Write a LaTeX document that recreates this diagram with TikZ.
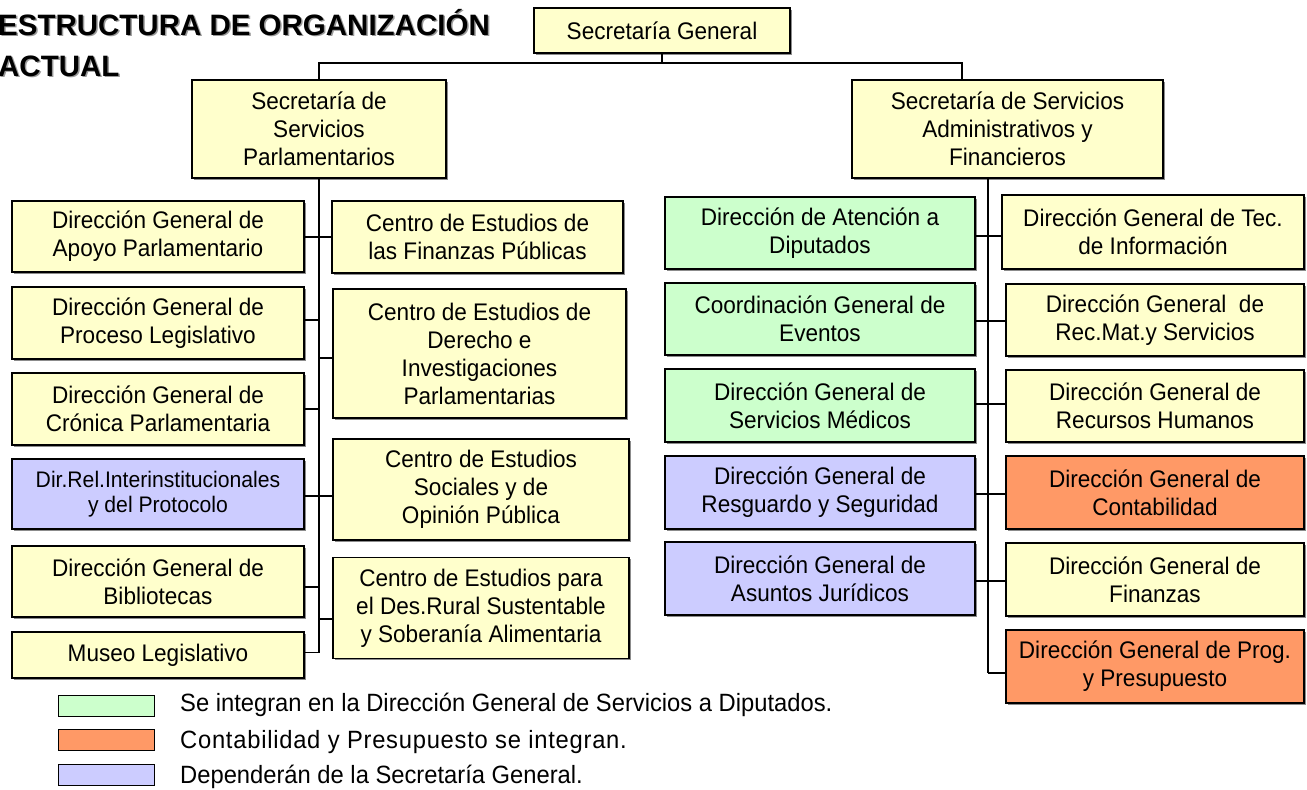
\documentclass[tikz,border=0pt]{standalone}
\usepackage{fontspec}
\setmainfont{Liberation Sans}
\newfontfamily\boxfont{Liberation Sans}[FakeStretch=0.94]
\newfontfamily\legfont{Liberation Sans}[FakeStretch=0.95]
\newfontfamily\legwidefont{Liberation Sans}[FakeStretch=0.95,LetterSpace=3.0]
\usetikzlibrary{shadows}
\definecolor{cyel}{HTML}{FFFFCC}
\definecolor{cgrn}{HTML}{CCFFCC}
\definecolor{corg}{HTML}{FF9966}
\definecolor{cblu}{HTML}{CCCCFF}
\tikzset{
  box/.style={draw=black, line width=1.3pt, align=center, inner sep=0pt,
    font=\boxfont\fontsize{24}{28}\selectfont,
    drop shadow={shadow xshift=1.6pt, shadow yshift=-1.6pt, fill=black!45, opacity=1}},
  conn/.style={draw=black, line width=1.6pt},
  swatch/.style={draw=black, line width=1pt, minimum width=96pt, minimum height=21pt, inner sep=0pt},
  legtext/.style={anchor=west, inner sep=0pt, font=\legfont\fontsize{25}{28}\selectfont},
  titletext/.style={anchor=base west, inner sep=0pt, font=\bfseries\fontsize{29.5}{30}\selectfont},
}
\begin{document}
\begin{tikzpicture}[x=1pt, y=-1pt]
\useasboundingbox (0,0) rectangle (1307,790);
\fill[white] (0,0) rectangle (1307,790);

% title
\node[titletext, text=black!40] at (-0.5,36.5) {ESTRUCTURA DE ORGANIZACIÓN};
\node[titletext] (t1) at (-2,35) {ESTRUCTURA DE ORGANIZACIÓN};
\node[titletext, text=black!40] at (-0.5,77.5) {ACTUAL};
\node[titletext] (t2) at (-2,76) {ACTUAL};

% top level
\node[box, fill=cyel, minimum width=256pt, minimum height=45pt] (sg) at (662,30.5) {Secretaría General};
\node[box, fill=cyel, minimum width=254pt, minimum height=98pt] (ssp) at (319,129) {Secretaría de\\Servicios\\Parlamentarios};
\node[box, fill=cyel, minimum width=311pt, minimum height=98pt] (ssaf) at (1007.5,129) {Secretaría de Servicios\\Administrativos y\\Financieros};

% left group, left column
\node[box, fill=cyel, minimum width=292pt, minimum height=71pt] (apoyo) at (158,236.5) {Dirección General de\\Apoyo Parlamentario};
\node[box, fill=cyel, minimum width=292pt, minimum height=72pt] (proceso) at (158,323) {Dirección General de\\Proceso Legislativo};
\node[box, fill=cyel, minimum width=292pt, minimum height=72pt] (cronica) at (158,409) {Dirección General de\\Crónica Parlamentaria};
\node[box, fill=cblu, minimum width=292pt, minimum height=70pt, font=\boxfont\fontsize{22.5}{25}\selectfont] (rel) at (158,494) {Dir.Rel.Interinstitucionales\\y del Protocolo};
\node[box, fill=cyel, minimum width=292pt, minimum height=71pt] (biblio) at (158,581.5) {Dirección General de\\Bibliotecas};
\node[box, fill=cyel, minimum width=292pt, minimum height=46pt] (museo) at (158,655) {Museo Legislativo};

% left group, right column
\node[box, fill=cyel, minimum width=291pt, minimum height=72pt] (finanzas) at (477.5,237) {Centro de Estudios de\\las Finanzas Públicas};
\node[box, fill=cyel, minimum width=293pt, minimum height=129pt] (derecho) at (479.5,353.5) {Centro de Estudios de\\Derecho e\\Investigaciones\\Parlamentarias};
\node[box, fill=cyel, minimum width=296pt, minimum height=101pt] (sociales) at (481,489.5) {Centro de Estudios\\Sociales y de\\Opinión Pública};
\node[box, fill=cyel, minimum width=296pt, minimum height=101pt] (rural) at (481,608) {Centro de Estudios para\\el Des.Rural Sustentable\\y Soberanía Alimentaria};

% right group, left column
\node[box, fill=cgrn, minimum width=310pt, minimum height=72pt] (atencion) at (820,233) {Dirección de Atención a\\Diputados};
\node[box, fill=cgrn, minimum width=310pt, minimum height=72pt] (eventos) at (820,319) {Coordinación General de\\Eventos};
\node[box, fill=cgrn, minimum width=310pt, minimum height=73pt] (medicos) at (820,405.5) {Dirección General de\\Servicios Médicos};
\node[box, fill=cblu, minimum width=310pt, minimum height=73pt] (resguardo) at (820,492.5) {Dirección General de\\Resguardo y Seguridad};
\node[box, fill=cblu, minimum width=310pt, minimum height=73pt] (juridicos) at (820,578.5) {Dirección General de\\Asuntos Jurídicos};

% right group, right column
\node[box, fill=cyel, minimum width=302pt, minimum height=74pt] (tec) at (1153,232) {Dirección General de Tec.\\de Información};
\node[box, fill=cyel, minimum width=298pt, minimum height=72pt] (recmat) at (1155,320) {Dirección General \ de\\Rec.Mat.y Servicios};
\node[box, fill=cyel, minimum width=298pt, minimum height=72pt] (rrhh) at (1155,406) {Dirección General de\\Recursos Humanos};
\node[box, fill=corg, minimum width=298pt, minimum height=73pt] (contab) at (1155,492.5) {Dirección General de\\Contabilidad};
\node[box, fill=cyel, minimum width=298pt, minimum height=73pt] (fin2) at (1155,579.5) {Dirección General de\\Finanzas};
\node[box, fill=corg, minimum width=298pt, minimum height=73pt] (prog) at (1155,666.5) {Dirección General de Prog.\\y Presupuesto};

% top connectors
\coordinate (bus) at (662,63);
\draw[conn] (sg.south) -- (bus);
\draw[conn] (bus) -| (ssp.north);
\draw[conn] (bus) -| ([xshift=-45.5pt]ssaf.north);

% left trunk
\coordinate (lbot) at (319,653);
\draw[conn] (ssp.south) -- (lbot);
\draw[conn] (apoyo.east |- 0,237) -- (finanzas.west |- 0,237);
\draw[conn] (proceso.east |- 0,320) -- (lbot |- 0,320);
\draw[conn] (derecho.west |- 0,358) -- (lbot |- 0,358);
\draw[conn] (cronica.east |- 0,409) -- (lbot |- 0,409);
\draw[conn] (rel.east |- 0,496) -- (sociales.west |- 0,496);
\draw[conn] (biblio.east |- 0,587) -- (lbot |- 0,587);
\draw[conn] (rural.west |- 0,619) -- (lbot |- 0,619);
\draw[conn] (museo.east |- 0,652.5) -- (lbot |- 0,652.5);

% right trunk
\coordinate (rbot) at (988,673);
\draw[conn] (ssaf.south -| rbot) -- (rbot);
\draw[conn] (atencion.east |- 0,236) -- (tec.west |- 0,236);
\draw[conn] (eventos.east |- 0,321) -- (recmat.west |- 0,321);
\draw[conn] (medicos.east |- 0,404) -- (rrhh.west |- 0,404);
\draw[conn] (resguardo.east |- 0,494) -- (contab.west |- 0,494);
\draw[conn] (juridicos.east |- 0,581) -- (fin2.west |- 0,581);
\draw[conn] (rbot) -- (prog.west |- rbot);

% legend
\node[swatch, fill=cgrn] (lg1) at (106,705.5) {};
\node[swatch, fill=corg] (lg2) at (106,739.5) {};
\node[swatch, fill=cblu] (lg3) at (106,774.5) {};
\node[legtext] (lt1) at (180,705) {Se integran en la Dirección General de Servicios a Diputados.};
\node[legtext, font=\legwidefont\fontsize{25}{28}\selectfont] (lt2) at (180,742) {Contabilidad y Presupuesto se integran.};
\node[legtext] (lt3) at (180,777) {Dependerán de la Secretaría General.};
\end{tikzpicture}
\end{document}
